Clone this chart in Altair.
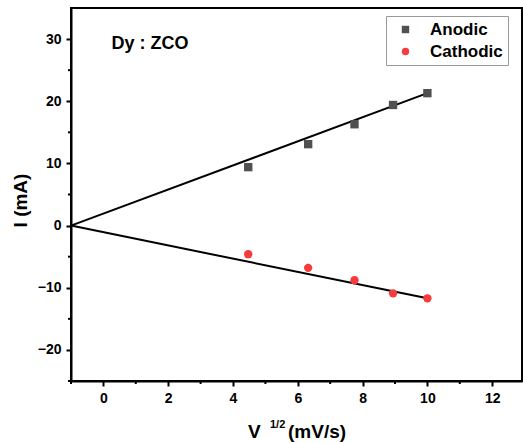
import altair as alt
import pandas as pd

# Peak current vs. square root of scan rate for the Dy : ZCO electrode
sqrt_scan_rate = [4.47, 6.32, 7.75, 8.94, 10.0]
anodic_current = [9.4, 13.1, 16.3, 19.4, 21.3]
cathodic_current = [-4.6, -6.8, -8.8, -10.9, -11.7]

# Linear fits, drawn from x = -1 out to the last scan rate
fit_x = [-1.0, 10.0]
anodic_fit = [0.0, 21.3]
cathodic_fit = [0.0, -11.7]

series_names = ["Anodic", "Cathodic"]
series_colors = ["#505050", "#f53b3b"]
series_shapes = ["square", "circle"]

x_major = [0, 2, 4, 6, 8, 10, 12]
x_minor = [-1, 1, 3, 5, 7, 9, 11]
y_major = [-20, -10, 0, 10, 20, 30]
y_minor = [-25, -15, -5, 5, 15, 25]

X_DOMAIN = [-1, 12.92]
Y_DOMAIN = [-25, 35]
W, H = 451, 373
FONT = "Liberation Sans"

points = pd.DataFrame({
    "x": sqrt_scan_rate * 2,
    "y": anodic_current + cathodic_current,
    "series": ["Anodic"] * 5 + ["Cathodic"] * 5,
})
fits = pd.DataFrame({
    "x": fit_x * 2,
    "y": anodic_fit + cathodic_fit,
    "series": ["Anodic"] * 2 + ["Cathodic"] * 2,
})

xs = alt.Scale(domain=X_DOMAIN, nice=False, zero=False)
ys = alt.Scale(domain=Y_DOMAIN, nice=False, zero=False)

x_axis = alt.Axis(values=x_major, title=None, format="d")
y_axis = alt.Axis(
    values=y_major, title="I (mA)", format="d",
    titleFontSize=19, titleX=-51, titleY=192, titleAngle=270,
    titleBaseline="middle", titleAlign="center",
)

lines = alt.Chart(fits).mark_line(color="black", strokeWidth=2).encode(
    x=alt.X("x:Q", scale=xs, axis=x_axis),
    y=alt.Y("y:Q", scale=ys, axis=y_axis),
    detail="series:N",
)

markers = alt.Chart(points).mark_point(filled=True, opacity=1, size=70).encode(
    x=alt.X("x:Q", scale=xs),
    y=alt.Y("y:Q", scale=ys),
    color=alt.Color(
        "series:N",
        scale=alt.Scale(domain=series_names, range=series_colors),
        legend=alt.Legend(
            title=None, orient="none", legendX=315, legendY=8,
            strokeColor="#999999", padding=5, labelFontSize=17,
            labelFont=FONT, labelFontWeight="bold", labelColor="black",
            symbolSize=55, symbolStrokeWidth=0, rowPadding=4,
            labelOffset=16, symbolOffset=6,
        ),
    ),
    shape=alt.Shape(
        "series:N",
        scale=alt.Scale(domain=series_names, range=series_shapes),
        legend=alt.Legend(title=None),
    ),
)

# Minor ticks on the outer side of both axes
x_minor_ticks = alt.Chart(pd.DataFrame({"x": x_minor})).mark_rule(
    color="black", strokeWidth=2
).encode(
    x=alt.X("x:Q", scale=xs),
    y=alt.value(H),
    y2=alt.value(H + 3),
)
y_minor_ticks = alt.Chart(pd.DataFrame({"y": y_minor})).mark_rule(
    color="black", strokeWidth=2
).encode(
    y=alt.Y("y:Q", scale=ys),
    x=alt.value(0),
    x2=alt.value(-3),
)

sample_label = alt.Chart(pd.DataFrame({"x": [0.25], "y": [29.2], "t": ["Dy : ZCO"]})).mark_text(
    align="left", baseline="middle", font=FONT, fontWeight="bold", fontSize=18, color="black"
).encode(x=alt.X("x:Q", scale=xs), y=alt.Y("y:Q", scale=ys), text="t:N")

# x-axis title with a superscript exponent
title_parts = [("V", 177, 424, 19), ("1/2", 199, 417, 11), ("(mV/s)", 217, 424, 19)]
x_title_layers = [
    alt.Chart(pd.DataFrame({"t": [t]})).mark_text(
        align="left", baseline="middle", font=FONT, fontWeight="bold",
        fontSize=fs, color="black",
    ).encode(x=alt.value(px), y=alt.value(py), text="t:N")
    for t, px, py, fs in title_parts
]

chart = alt.layer(
    lines, markers, x_minor_ticks, y_minor_ticks, sample_label, *x_title_layers
).properties(
    width=W, height=H,
    padding={"left": 71, "top": 8, "right": 1, "bottom": 62},
    autosize=alt.AutoSizeParams(type="none"),
).configure_view(
    stroke="black", strokeWidth=2
).configure_axis(
    domainColor="black", domainWidth=2, tickColor="black", tickWidth=2,
    tickSize=5, labelFont=FONT, labelFontWeight="bold", labelFontSize=14,
    labelColor="black", labelPadding=5, grid=False,
    titleFont=FONT, titleFontWeight="bold", titleColor="black",
)

chart.save("out.html", embed_options={"renderer": "svg", "actions": False})
